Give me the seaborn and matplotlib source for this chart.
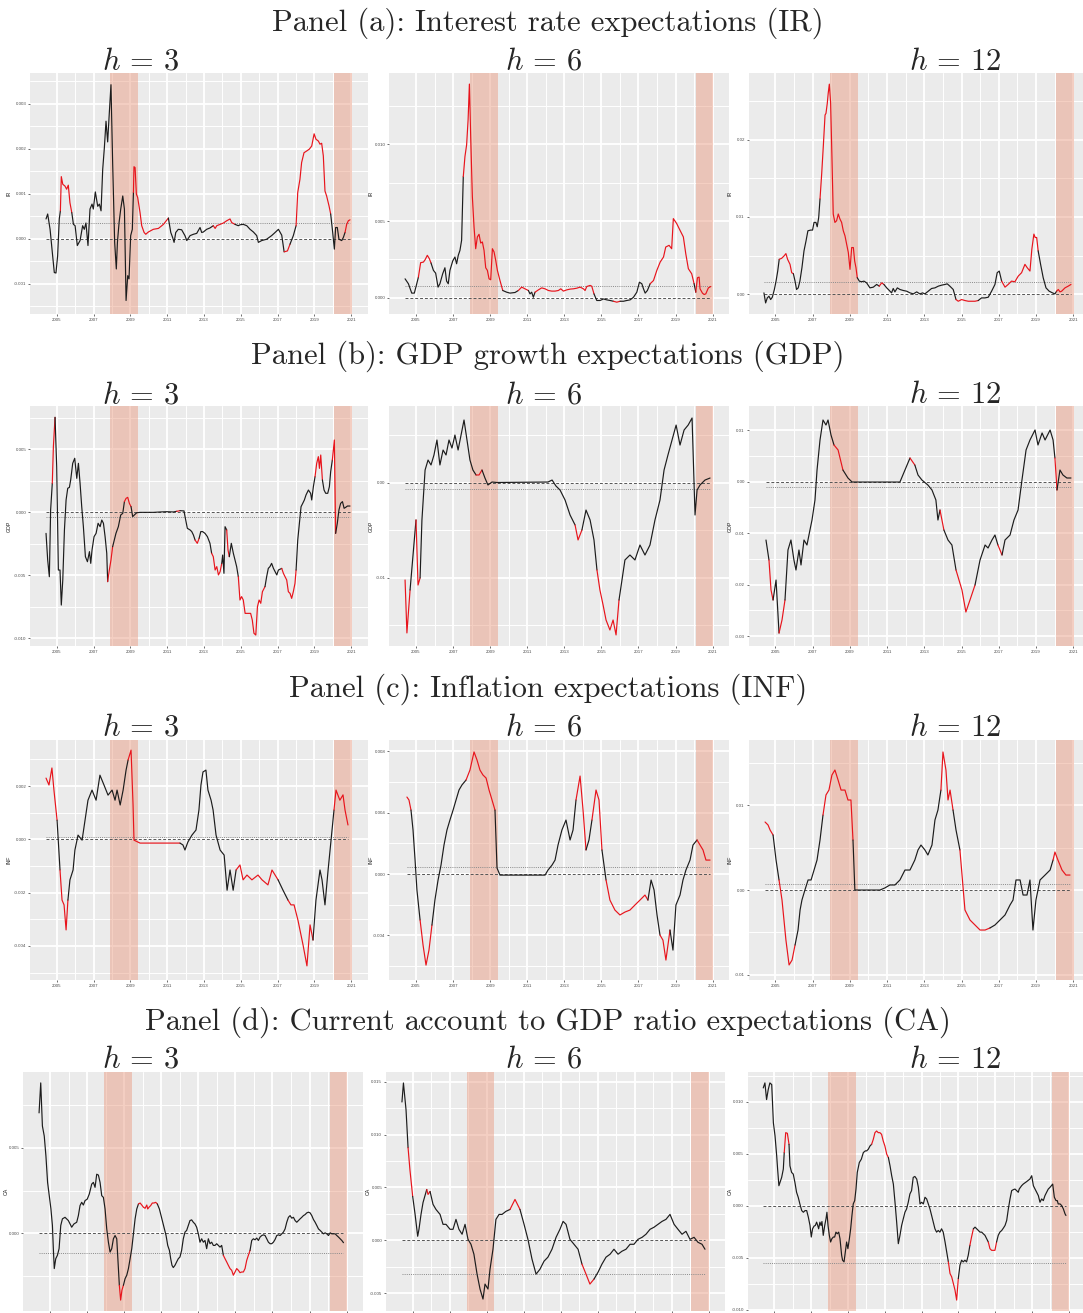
import numpy as np
import pandas as pd
import matplotlib
matplotlib.use("Agg")
import matplotlib.pyplot as plt
import seaborn as sns
from matplotlib.ticker import FixedLocator, FormatStrFormatter

sns.set_theme(style="darkgrid")
plt.rcParams["font.family"] = ["Liberation Sans", "DejaVu Sans"]
plt.rcParams["mathtext.fontset"] = "cm"
plt.rcParams["axes.unicode_minus"] = False

# ---------------- data (values in units of 1e-3) ----------------
RECESSIONS = [(2007.92, 2009.42), (2020.08, 2021.04)]

IR3 = [(2004.42, 0.44), (2004.51, 0.55), (2004.64, 0.21), (2004.78, -0.38), (2004.87, -0.75), (2004.96, -0.76),
       (2005.05, -0.38), (2005.14, 0.44), (2005.20, 0.62), (2005.25, 1.38), (2005.33, 1.21), (2005.45, 1.17),
       (2005.54, 1.10), (2005.63, 1.19), (2005.72, 0.80), (2005.82, 0.58), (2005.91, 0.32), (2006.00, 0.29),
       (2006.12, -0.15), (2006.27, -0.04), (2006.41, 0.29), (2006.50, 0.21), (2006.59, 0.35), (2006.70, -0.15),
       (2006.81, 0.66), (2006.92, 0.77), (2006.99, 0.66), (2007.10, 1.04), (2007.23, 0.72), (2007.32, 0.77),
       (2007.41, 0.62), (2007.50, 1.54), (2007.59, 2.02), (2007.68, 2.61), (2007.77, 2.15), (2007.86, 2.80),
       (2007.95, 3.42), (2008.04, 1.69), (2008.15, -0.08), (2008.24, -0.67), (2008.30, -0.08), (2008.39, 0.36),
       (2008.48, 0.66), (2008.59, 0.95), (2008.68, 0.66), (2008.77, -1.37), (2008.86, -0.82), (2008.93, -0.89),
       (2009.02, 0.07), (2009.11, 0.21), (2009.17, 1.03), (2009.20, 1.60), (2009.26, 1.58), (2009.33, 0.99),
       (2009.40, 0.92), (2009.53, 0.58), (2009.62, 0.29), (2009.75, 0.14), (2009.84, 0.10), (2009.98, 0.15),
       (2010.25, 0.21), (2010.53, 0.23), (2010.80, 0.32), (2011.07, 0.46), (2011.20, 0.14), (2011.30, 0.03),
       (2011.38, -0.08), (2011.47, 0.14), (2011.61, 0.21), (2011.79, 0.20), (2011.97, 0.07), (2012.07, -0.04),
       (2012.25, 0.07), (2012.43, 0.10), (2012.61, 0.12), (2012.79, 0.25), (2012.88, 0.14), (2012.97, 0.15),
       (2013.15, 0.21), (2013.33, 0.24), (2013.51, 0.29), (2013.61, 0.23), (2013.70, 0.29), (2013.88, 0.32),
       (2014.06, 0.35), (2014.24, 0.40), (2014.42, 0.44), (2014.51, 0.36), (2014.69, 0.32), (2014.87, 0.29),
       (2014.96, 0.31), (2015.14, 0.32), (2015.33, 0.29), (2015.51, 0.21), (2015.69, 0.15), (2015.87, 0.07),
       (2015.96, -0.08), (2016.14, -0.04), (2016.41, -0.01), (2016.68, 0.07), (2016.87, 0.14), (2017.05, 0.21),
       (2017.23, 0.08), (2017.36, -0.29), (2017.54, -0.27), (2017.68, -0.12), (2017.86, 0.07), (2018.01, 0.29),
       (2018.10, 1.03), (2018.22, 1.32), (2018.31, 1.69), (2018.44, 1.91), (2018.59, 1.95), (2018.73, 1.99),
       (2018.86, 2.06), (2018.99, 2.33), (2019.09, 2.21), (2019.22, 2.17), (2019.31, 2.10), (2019.40, 2.12),
       (2019.49, 1.84), (2019.58, 1.06), (2019.67, 0.95), (2019.80, 0.73), (2019.89, 0.55), (2020.00, 0.14),
       (2020.09, -0.23), (2020.16, 0.25), (2020.25, 0.25), (2020.34, -0.01), (2020.49, -0.04), (2020.58, 0.03),
       (2020.67, 0.14), (2020.76, 0.32), (2020.85, 0.40), (2020.94, 0.42)]
IR3_RED = [(2005.18, 2005.84), (2009.15, 2011.08), (2013.50, 2014.65), (2017.33, 2017.62), (2018.05, 2019.86), (2020.65, 2021.0)]
IR3_REF = 0.35

IR6 = [(2004.41, 1.24), (2004.59, 0.92), (2004.77, 0.31), (2004.91, 0.31), (2005.04, 0.92), (2005.13, 1.35),
       (2005.25, 2.29), (2005.40, 2.33), (2005.49, 2.48), (2005.61, 2.77), (2005.72, 2.55), (2005.81, 2.27),
       (2005.94, 1.79), (2006.06, 1.61), (2006.19, 0.70), (2006.29, 0.92), (2006.44, 1.57), (2006.56, 1.96),
       (2006.65, 1.09), (2006.74, 0.92), (2006.83, 1.79), (2006.98, 2.40), (2007.10, 2.66), (2007.19, 2.22),
       (2007.28, 2.77), (2007.37, 3.09), (2007.46, 3.75), (2007.55, 7.89), (2007.64, 9.20), (2007.73, 9.96),
       (2007.81, 11.59), (2007.88, 13.92), (2007.95, 10.50), (2008.04, 6.58), (2008.13, 4.62), (2008.22, 3.20),
       (2008.31, 3.97), (2008.40, 4.14), (2008.49, 3.57), (2008.58, 3.64), (2008.67, 3.09), (2008.76, 1.96),
       (2008.85, 1.79), (2008.94, 1.24), (2009.03, 1.18), (2009.12, 3.20), (2009.21, 2.99), (2009.30, 2.44),
       (2009.39, 1.79), (2009.53, 1.13), (2009.68, 0.48), (2009.89, 0.37), (2010.07, 0.31), (2010.34, 0.35),
       (2010.52, 0.48), (2010.70, 0.70), (2010.88, 0.59), (2011.06, 0.48), (2011.15, 0.26), (2011.24, 0.37),
       (2011.33, 0.04), (2011.42, 0.37), (2011.60, 0.52), (2011.78, 0.65), (2011.96, 0.59), (2012.14, 0.48),
       (2012.32, 0.44), (2012.50, 0.44), (2012.68, 0.48), (2012.81, 0.59), (2012.95, 0.44), (2013.13, 0.52),
       (2013.31, 0.57), (2013.49, 0.59), (2013.67, 0.63), (2013.85, 0.70), (2014.03, 0.59), (2014.12, 0.48),
       (2014.21, 0.74), (2014.39, 0.81), (2014.48, 0.76), (2014.60, 0.26), (2014.75, -0.17), (2014.93, -0.17),
       (2015.11, -0.07), (2015.29, -0.13), (2015.47, -0.17), (2015.65, -0.22), (2015.83, -0.28), (2016.01, -0.22),
       (2016.19, -0.22), (2016.37, -0.17), (2016.55, -0.13), (2016.73, 0.04), (2016.91, 0.37), (2017.05, 1.02),
       (2017.18, 0.92), (2017.27, 0.59), (2017.36, 0.31), (2017.48, 0.48), (2017.63, 0.92), (2017.81, 1.13),
       (2017.99, 1.79), (2018.17, 2.33), (2018.35, 2.66), (2018.47, 3.31), (2018.65, 3.42), (2018.79, 3.20),
       (2018.88, 5.16), (2019.06, 4.84), (2019.24, 4.40), (2019.42, 3.97), (2019.55, 2.88), (2019.69, 1.90),
       (2019.87, 1.57), (2020.00, 0.92), (2020.09, 0.37), (2020.18, 1.31), (2020.27, 1.35), (2020.32, 0.59),
       (2020.45, 0.31), (2020.54, 0.22), (2020.63, 0.26), (2020.77, 0.65), (2020.90, 0.74)]
IR6_RED = [(2005.10, 2005.85), (2007.55, 2009.70), (2010.45, 2011.00), (2011.50, 2014.55), (2015.60, 2016.00), (2017.60, 2020.00), (2020.10, 2021.0)]
IR6_REF = 0.76

IR12 = [(2004.39, 0.17), (2004.48, -1.13), (2004.57, -0.48), (2004.66, -0.26), (2004.75, -0.69), (2004.84, -0.39),
        (2004.95, 0.61), (2005.04, 1.69), (2005.13, 2.99), (2005.21, 4.51), (2005.34, 4.64), (2005.47, 4.95),
        (2005.57, 5.25), (2005.66, 4.51), (2005.79, 3.86), (2005.88, 2.78), (2005.97, 2.65), (2006.06, 1.69),
        (2006.14, 0.61), (2006.23, 0.82), (2006.32, 1.69), (2006.43, 3.43), (2006.54, 5.60), (2006.65, 6.90),
        (2006.75, 8.20), (2006.90, 8.29), (2007.00, 8.29), (2007.08, 9.28), (2007.18, 9.28), (2007.25, 8.72),
        (2007.33, 9.93), (2007.40, 12.32), (2007.49, 15.57), (2007.58, 19.26), (2007.67, 23.17), (2007.72, 23.38),
        (2007.79, 24.68), (2007.84, 25.98), (2007.90, 27.16), (2007.97, 24.68), (2008.04, 17.74), (2008.11, 10.37),
        (2008.20, 9.28), (2008.29, 9.50), (2008.38, 10.37), (2008.47, 9.72), (2008.56, 9.28), (2008.65, 8.20),
        (2008.74, 7.55), (2008.83, 6.46), (2008.92, 5.38), (2009.01, 3.21), (2009.10, 6.03), (2009.19, 6.03),
        (2009.26, 4.29), (2009.33, 3.43), (2009.40, 2.13), (2009.51, 1.69), (2009.63, 1.61), (2009.76, 1.69),
        (2009.90, 1.47), (2010.08, 0.82), (2010.26, 0.91), (2010.44, 1.26), (2010.58, 1.04), (2010.71, 1.47),
        (2010.83, 1.26), (2010.98, 0.82), (2011.12, 0.48), (2011.24, 0.17), (2011.33, 0.74), (2011.42, 0.30),
        (2011.55, 0.82), (2011.69, 0.61), (2011.87, 0.48), (2012.05, 0.39), (2012.23, 0.17), (2012.41, 0.04),
        (2012.59, 0.30), (2012.76, 0.04), (2012.91, 0.17), (2013.03, 0.04), (2013.21, 0.39), (2013.39, 0.74),
        (2013.57, 0.82), (2013.75, 1.04), (2013.93, 1.17), (2014.11, 1.26), (2014.23, 1.34), (2014.37, 1.04),
        (2014.55, 0.61), (2014.70, -0.69), (2014.82, -0.91), (2015.00, -0.69), (2015.18, -0.82), (2015.36, -0.91),
        (2015.54, -0.91), (2015.72, -0.91), (2015.89, -0.82), (2016.07, -0.48), (2016.25, -0.48), (2016.43, -0.39),
        (2016.61, 0.39), (2016.79, 1.26), (2016.91, 2.78), (2017.02, 2.99), (2017.15, 1.69), (2017.33, 0.91),
        (2017.50, 1.26), (2017.68, 1.69), (2017.86, 1.61), (2018.04, 2.34), (2018.22, 2.78), (2018.40, 3.86),
        (2018.52, 3.43), (2018.67, 2.99), (2018.77, 5.81), (2018.88, 7.77), (2018.95, 7.33), (2019.03, 7.33),
        (2019.11, 5.60), (2019.24, 3.86), (2019.38, 2.13), (2019.53, 0.82), (2019.70, 0.39), (2019.88, 0.17),
        (2020.01, 0.04), (2020.10, 0.39), (2020.19, 0.61), (2020.28, 0.30), (2020.37, 0.39), (2020.55, 0.82),
        (2020.72, 1.04), (2020.87, 1.26)]
IR12_RED = [(2005.20, 2005.97), (2007.40, 2009.45), (2010.60, 2010.90), (2014.65, 2015.95), (2017.15, 2019.10), (2020.10, 2021.0)]
IR12_REF = 1.56

GDP3 = [(2004.42, -1.67), (2004.51, -3.78), (2004.60, -5.11), (2004.67, 0.19), (2004.76, 2.30), (2004.82, 5.21),
        (2004.91, 7.54), (2005.00, 3.62), (2005.09, -4.58), (2005.18, -4.58), (2005.25, -7.36), (2005.33, -5.37),
        (2005.42, -1.40), (2005.51, 0.98), (2005.60, 1.91), (2005.69, 1.98), (2005.76, 2.57), (2005.87, 3.89),
        (2005.98, 4.29), (2006.09, 2.70), (2006.18, 3.89), (2006.27, 2.30), (2006.36, 0.45), (2006.45, -1.14),
        (2006.56, -3.52), (2006.67, -3.92), (2006.78, -3.12), (2006.85, -4.05), (2006.92, -2.99), (2007.03, -1.93),
        (2007.14, -1.67), (2007.25, -0.87), (2007.36, -1.14), (2007.45, -0.61), (2007.54, -0.87), (2007.63, -1.93),
        (2007.72, -3.25), (2007.77, -5.50), (2007.86, -4.58), (2007.95, -3.78), (2008.04, -2.73), (2008.13, -2.20),
        (2008.22, -1.67), (2008.35, -1.14), (2008.48, -0.21), (2008.59, -0.08), (2008.68, 0.85), (2008.77, 1.11),
        (2008.86, 1.19), (2008.95, 0.71), (2009.04, 0.45), (2009.13, -0.34), (2009.22, -0.21), (2009.35, -0.03),
        (2009.53, 0.0), (2009.89, 0.0), (2010.25, 0.0), (2010.62, 0.03), (2010.98, 0.05), (2011.34, 0.03),
        (2011.52, 0.08), (2011.70, 0.13), (2011.92, 0.11), (2011.97, -0.30), (2012.10, -1.27), (2012.25, -1.40),
        (2012.34, -1.53), (2012.43, -1.80), (2012.52, -2.20), (2012.64, -2.46), (2012.74, -2.06), (2012.83, -1.53),
        (2012.93, -1.53), (2013.06, -1.67), (2013.19, -1.93), (2013.33, -2.46), (2013.42, -3.25), (2013.51, -3.52),
        (2013.61, -4.58), (2013.70, -4.31), (2013.79, -4.97), (2013.88, -4.71), (2013.97, -4.05), (2014.02, -3.39),
        (2014.09, -4.84), (2014.15, -1.14), (2014.24, -1.40), (2014.31, -2.99), (2014.38, -3.52), (2014.49, -2.46),
        (2014.60, -3.25), (2014.69, -3.78), (2014.78, -4.31), (2014.87, -5.11), (2014.96, -6.96), (2015.05, -6.69),
        (2015.14, -6.96), (2015.24, -8.02), (2015.42, -8.02), (2015.54, -8.02), (2015.63, -8.55), (2015.72, -9.60),
        (2015.82, -9.74), (2015.91, -7.49), (2016.00, -6.96), (2016.09, -7.22), (2016.18, -6.30), (2016.32, -5.90),
        (2016.41, -5.11), (2016.50, -4.45), (2016.59, -4.31), (2016.68, -4.05), (2016.78, -4.45), (2016.87, -4.71),
        (2016.96, -4.97), (2017.05, -4.58), (2017.23, -4.45), (2017.32, -4.84), (2017.41, -5.11), (2017.50, -5.37),
        (2017.59, -6.30), (2017.68, -6.43), (2017.77, -6.83), (2017.86, -6.30), (2017.95, -5.64), (2018.01, -4.58),
        (2018.10, -2.20), (2018.19, -0.87), (2018.28, 0.45), (2018.37, 0.71), (2018.46, 0.98), (2018.55, 1.38),
        (2018.68, 1.77), (2018.80, 1.51), (2018.86, 0.98), (2018.95, 2.04), (2019.04, 2.83), (2019.13, 3.89),
        (2019.22, 4.42), (2019.28, 3.49), (2019.35, 4.55), (2019.44, 2.57), (2019.53, 1.77), (2019.62, 1.51),
        (2019.73, 1.51), (2019.82, 2.04), (2019.89, 3.23), (2019.98, 4.15), (2020.09, 5.74), (2020.16, -1.67),
        (2020.25, -0.87), (2020.34, 0.19), (2020.43, 0.71), (2020.53, 0.85), (2020.62, 0.32), (2020.71, 0.40),
        (2020.80, 0.50), (2020.94, 0.50)]
GDP3_RED = [(2004.78, 2004.93), (2007.76, 2008.00), (2008.70, 2009.00), (2011.45, 2011.75), (2012.55, 2012.70),
            (2013.40, 2013.95), (2014.25, 2014.40), (2014.87, 2016.30), (2017.25, 2018.02), (2019.05, 2019.40),
            (2019.95, 2020.17)]
GDP3_REF = -0.40

GDP6 = [(2004.41, -10.23), (2004.51, -15.79), (2004.68, -11.28), (2004.84, -7.61), (2005.00, -3.93), (2005.11, -10.76),
        (2005.22, -10.02), (2005.32, -3.93), (2005.49, 1.31), (2005.65, 2.36), (2005.81, 1.84), (2005.97, 2.89),
        (2006.13, 4.46), (2006.29, 1.84), (2006.46, 3.41), (2006.62, 2.89), (2006.78, 4.46), (2006.94, 3.62),
        (2007.10, 4.98), (2007.27, 3.41), (2007.43, 4.98), (2007.59, 6.56), (2007.75, 4.46), (2007.91, 2.36),
        (2008.07, 1.31), (2008.24, 0.79), (2008.40, 0.79), (2008.56, 1.31), (2008.72, 0.47), (2008.88, -0.26),
        (2009.10, 0.05), (2009.37, 0.0), (2012.12, 0.05), (2012.34, 0.26), (2012.55, -0.37), (2012.77, -0.79),
        (2013.04, -1.84), (2013.31, -3.41), (2013.58, -4.46), (2013.74, -6.03), (2013.95, -4.98), (2014.17, -2.89),
        (2014.39, -3.93), (2014.60, -6.03), (2014.76, -9.18), (2014.92, -11.28), (2015.09, -12.85), (2015.25, -14.43),
        (2015.46, -15.48), (2015.63, -14.43), (2015.79, -16.00), (2015.95, -12.33), (2016.11, -10.23), (2016.27, -8.13),
        (2016.54, -7.61), (2016.81, -8.13), (2017.08, -6.56), (2017.35, -7.61), (2017.62, -6.56), (2017.89, -3.93),
        (2018.16, -1.84), (2018.38, 1.31), (2018.59, 2.89), (2018.81, 4.46), (2019.03, 6.03), (2019.24, 3.93),
        (2019.46, 5.51), (2019.68, 6.03), (2019.89, 6.77), (2020.05, -3.41), (2020.16, -0.79), (2020.32, -0.26),
        (2020.59, 0.26), (2020.86, 0.47)]
GDP6_RED = [(2004.45, 2004.60), (2005.05, 2005.25), (2008.20, 2008.50), (2013.60, 2013.85), (2014.70, 2016.00),
            (2017.30, 2017.45), (2019.98, 2020.10)]
GDP6_REF = -0.70

GDP12 = [(2004.50, -11.32), (2004.66, -15.20), (2004.77, -21.03), (2004.88, -22.97), (2005.04, -19.09), (2005.20, -29.38),
         (2005.36, -26.85), (2005.52, -22.97), (2005.68, -13.26), (2005.84, -11.32), (2006.00, -15.20), (2006.11, -17.15),
         (2006.27, -13.26), (2006.38, -16.17), (2006.54, -11.32), (2006.70, -12.29), (2006.86, -9.38), (2006.97, -7.44),
         (2007.13, -3.55), (2007.24, 2.27), (2007.40, 8.10), (2007.56, 11.98), (2007.72, 11.01), (2007.83, 11.98),
         (2007.99, 9.07), (2008.15, 7.13), (2008.37, 6.16), (2008.63, 2.27), (2008.90, 0.72), (2009.12, -0.06),
         (2011.42, -0.06), (2011.69, -0.06), (2011.96, 2.27), (2012.23, 4.60), (2012.49, 3.24), (2012.66, 1.30),
         (2012.87, 0.33), (2013.19, -0.64), (2013.41, -1.61), (2013.62, -3.55), (2013.73, -7.44), (2013.84, -5.50),
         (2014.05, -9.38), (2014.27, -11.32), (2014.48, -12.29), (2014.70, -17.15), (2015.02, -21.03), (2015.23, -25.30),
         (2015.45, -22.97), (2015.72, -20.06), (2015.99, -15.20), (2016.26, -12.29), (2016.42, -12.87), (2016.63, -11.32),
         (2016.79, -10.35), (2016.95, -12.29), (2017.17, -14.23), (2017.33, -11.32), (2017.60, -10.35), (2017.81, -7.44),
         (2018.03, -5.50), (2018.24, 0.33), (2018.46, 6.16), (2018.67, 8.10), (2018.94, 10.04), (2019.10, 7.13),
         (2019.32, 9.46), (2019.48, 8.10), (2019.75, 10.04), (2019.91, 8.10), (2020.01, 4.60), (2020.12, -1.61),
         (2020.28, 2.27), (2020.44, 1.30), (2020.65, 0.72), (2020.87, 0.72)]
GDP12_RED = [(2004.70, 2004.90), (2005.15, 2005.50), (2008.10, 2008.50), (2012.10, 2012.40), (2013.80, 2013.95),
             (2014.70, 2015.70), (2016.95, 2017.20), (2020.05, 2020.15)]
GDP12_REF = -1.10

INF3 = [(2004.42, 2.30), (2004.58, 2.04), (2004.74, 2.68), (2004.85, 1.85), (2005.02, 0.72), (2005.18, -1.15),
        (2005.29, -2.28), (2005.40, -2.46), (2005.51, -3.40), (2005.61, -2.28), (2005.72, -1.52), (2005.89, -1.15),
        (2005.99, -0.40), (2006.16, 0.16), (2006.38, -0.03), (2006.54, 0.72), (2006.70, 1.47), (2006.92, 1.85),
        (2007.14, 1.47), (2007.35, 2.41), (2007.57, 2.04), (2007.79, 1.66), (2008.01, 1.85), (2008.17, 1.47),
        (2008.28, 1.85), (2008.45, 1.29), (2008.61, 1.85), (2008.77, 2.60), (2008.88, 2.98), (2009.04, 3.35),
        (2009.15, 1.29), (2009.20, -0.03), (2009.53, -0.14), (2010.61, -0.14), (2011.70, -0.14), (2011.86, -0.21),
        (2011.97, -0.40), (2012.13, -0.10), (2012.35, 0.16), (2012.57, 0.35), (2012.73, 1.10), (2012.84, 2.04),
        (2012.95, 2.53), (2013.11, 2.60), (2013.22, 1.85), (2013.39, 1.47), (2013.50, 1.10), (2013.66, 0.16),
        (2013.88, -0.40), (2014.10, -0.59), (2014.26, -1.91), (2014.42, -1.15), (2014.59, -1.91), (2014.75, -1.15),
        (2014.96, -0.96), (2015.13, -1.52), (2015.34, -1.34), (2015.61, -1.52), (2015.94, -1.34), (2016.16, -1.52),
        (2016.48, -1.71), (2016.70, -1.15), (2017.03, -1.52), (2017.30, -1.91), (2017.57, -2.28), (2017.73, -2.46),
        (2017.90, -2.46), (2018.11, -3.03), (2018.39, -3.97), (2018.60, -4.75), (2018.77, -3.21), (2018.93, -3.78),
        (2019.09, -2.28), (2019.31, -1.15), (2019.42, -1.52), (2019.58, -2.46), (2019.75, -1.15), (2019.91, -0.03),
        (2020.07, 1.10), (2020.18, 1.85), (2020.39, 1.47), (2020.56, 1.67), (2020.67, 1.10), (2020.83, 0.54)]
INF3_RED = [(2004.40, 2004.95), (2005.20, 2005.60), (2008.90, 2011.75), (2014.70, 2016.90), (2017.60, 2018.90), (2020.10, 2021.0)]
INF3_REF = 0.10

INF6 = [(2004.51, 5.02), (2004.62, 4.83), (2004.73, 4.17), (2004.84, 2.87), (2004.95, 0.91), (2005.05, -1.04),
        (2005.22, -3.00), (2005.38, -4.63), (2005.54, -5.94), (2005.70, -4.96), (2005.86, -3.33), (2006.02, -1.70),
        (2006.19, -0.39), (2006.35, 0.59), (2006.51, 1.89), (2006.67, 2.87), (2006.83, 3.52), (2007.00, 4.17),
        (2007.16, 4.83), (2007.32, 5.48), (2007.48, 5.81), (2007.70, 6.13), (2007.91, 6.78), (2008.13, 7.96),
        (2008.29, 7.44), (2008.45, 6.78), (2008.61, 6.46), (2008.78, 6.26), (2008.94, 5.48), (2009.10, 4.83),
        (2009.26, 4.17), (2009.37, 0.39), (2009.53, -0.07), (2011.96, -0.07), (2012.12, 0.26), (2012.34, 0.59),
        (2012.50, 0.91), (2012.66, 1.89), (2012.87, 2.87), (2013.09, 3.52), (2013.31, 2.22), (2013.47, 2.87),
        (2013.63, 4.83), (2013.85, 6.39), (2014.01, 4.17), (2014.17, 1.57), (2014.33, 2.22), (2014.49, 3.52),
        (2014.71, 5.48), (2014.87, 4.83), (2015.03, 1.57), (2015.25, -0.39), (2015.46, -1.70), (2015.73, -2.35),
        (2016.00, -2.67), (2016.27, -2.48), (2016.54, -2.35), (2016.81, -2.02), (2017.08, -1.70), (2017.35, -1.37),
        (2017.51, -1.70), (2017.68, -0.39), (2017.84, -1.04), (2018.00, -2.67), (2018.16, -3.98), (2018.32, -4.31),
        (2018.48, -5.61), (2018.70, -3.65), (2018.86, -4.96), (2019.02, -2.02), (2019.24, -1.37), (2019.40, -0.39),
        (2019.56, 0.26), (2019.78, 0.91), (2019.94, 1.89), (2020.16, 2.22), (2020.32, 1.89), (2020.48, 1.57),
        (2020.64, 0.91), (2020.86, 0.91)]
INF6_RED = [(2004.45, 2004.75), (2005.20, 2005.90), (2007.60, 2009.30), (2013.60, 2014.10), (2014.60, 2015.00),
            (2015.30, 2017.50), (2018.10, 2018.60), (2020.10, 2021.0)]
INF6_REF = 0.46

INF12 = [(2004.45, 8.00), (2004.61, 7.65), (2004.72, 7.06), (2004.88, 6.47), (2005.04, 3.53), (2005.20, 1.18),
         (2005.36, -1.18), (2005.57, -5.88), (2005.74, -8.82), (2005.90, -8.24), (2006.06, -6.47), (2006.22, -4.71),
         (2006.33, -2.35), (2006.43, -1.18), (2006.59, 0.0), (2006.76, 1.18), (2006.92, 1.18), (2007.08, 2.35),
         (2007.24, 3.53), (2007.40, 5.88), (2007.56, 8.82), (2007.72, 11.18), (2007.88, 11.76), (2008.04, 13.53),
         (2008.20, 14.12), (2008.37, 12.94), (2008.53, 11.76), (2008.74, 11.76), (2008.90, 10.59), (2009.06, 10.59),
         (2009.17, 5.88), (2009.27, 0.0), (2010.62, 0.0), (2010.88, 0.24), (2011.15, 0.59), (2011.42, 0.59),
         (2011.69, 1.18), (2011.96, 2.35), (2012.23, 2.35), (2012.49, 3.53), (2012.66, 4.71), (2012.82, 5.29),
         (2013.03, 4.71), (2013.19, 4.12), (2013.41, 5.29), (2013.57, 8.24), (2013.73, 9.41), (2013.89, 11.76),
         (2014.00, 16.24), (2014.16, 14.12), (2014.27, 10.59), (2014.38, 11.76), (2014.54, 9.41), (2014.70, 7.06),
         (2014.91, 4.71), (2015.18, -2.35), (2015.45, -3.53), (2015.72, -4.12), (2015.99, -4.71), (2016.26, -4.71),
         (2016.52, -4.47), (2016.79, -4.12), (2017.06, -3.53), (2017.33, -2.94), (2017.60, -1.76), (2017.76, -1.18),
         (2017.92, 1.18), (2018.14, 1.18), (2018.30, -0.59), (2018.51, -0.59), (2018.67, 1.18), (2018.83, -4.71),
         (2018.99, -1.18), (2019.21, 1.18), (2019.48, 1.76), (2019.75, 2.35), (2019.91, 3.53), (2020.01, 4.47),
         (2020.17, 3.53), (2020.39, 2.35), (2020.60, 1.76), (2020.82, 1.76)]
INF12_RED = [(2004.40, 2004.90), (2005.20, 2006.00), (2007.50, 2009.20), (2013.90, 2014.50), (2014.95, 2016.50), (2019.95, 2021.0)]
INF12_REF = 0.70

CA3 = [(2004.41, 7.06), (2004.50, 8.82), (2004.59, 6.29), (2004.69, 5.70), (2004.78, 4.53), (2004.87, 2.98),
       (2004.96, 2.20), (2005.05, 1.42), (2005.13, 0.45), (2005.18, -0.91), (2005.23, -2.08), (2005.31, -1.50),
       (2005.40, -1.30), (2005.49, -0.91), (2005.58, 0.45), (2005.67, 0.84), (2005.81, 0.93), (2005.99, 0.74),
       (2006.17, 0.35), (2006.29, 0.54), (2006.44, 0.64), (2006.53, 1.03), (2006.62, 1.62), (2006.71, 1.81),
       (2006.80, 1.65), (2006.89, 1.91), (2007.01, 2.00), (2007.12, 2.30), (2007.25, 2.88), (2007.34, 2.98),
       (2007.43, 2.69), (2007.52, 3.46), (2007.61, 3.41), (2007.70, 2.98), (2007.79, 2.20), (2007.88, 2.10),
       (2007.97, 1.42), (2008.06, 0.25), (2008.15, -0.53), (2008.24, -1.11), (2008.33, -0.91), (2008.42, -0.33),
       (2008.51, -0.14), (2008.60, -0.33), (2008.63, -0.91), (2008.69, -2.08), (2008.74, -3.06), (2008.81, -3.93),
       (2008.88, -3.35), (2008.96, -3.06), (2009.05, -2.67), (2009.14, -2.47), (2009.23, -2.08), (2009.32, -1.50),
       (2009.41, -0.91), (2009.50, -0.04), (2009.59, 0.84), (2009.68, 1.42), (2009.77, 1.71), (2009.86, 1.77),
       (2009.95, 1.65), (2010.04, 1.52), (2010.13, 1.46), (2010.22, 1.65), (2010.27, 1.42), (2010.34, 1.52),
       (2010.43, 1.62), (2010.52, 1.77), (2010.61, 1.77), (2010.70, 1.81), (2010.79, 1.71), (2010.90, 1.42),
       (2010.99, 1.03), (2011.08, 0.64), (2011.17, 0.25), (2011.26, -0.14), (2011.35, -0.72), (2011.44, -1.01),
       (2011.51, -1.50), (2011.58, -1.89), (2011.65, -2.02), (2011.74, -1.89), (2011.83, -1.69), (2011.92, -1.50),
       (2012.01, -1.40), (2012.10, -1.01), (2012.19, -0.33), (2012.28, 0.06), (2012.37, 0.16), (2012.46, 0.45),
       (2012.55, 0.74), (2012.64, 0.78), (2012.73, 0.64), (2012.82, 0.54), (2012.91, 0.35), (2013.00, -0.04),
       (2013.09, -0.53), (2013.18, -0.33), (2013.27, -0.53), (2013.36, -0.43), (2013.45, -0.91), (2013.54, -0.33),
       (2013.63, -0.62), (2013.72, -0.53), (2013.81, -0.72), (2013.90, -0.72), (2013.99, -0.62), (2014.08, -0.72),
       (2014.17, -0.82), (2014.26, -0.72), (2014.35, -1.30), (2014.44, -1.50), (2014.53, -1.69), (2014.62, -1.89),
       (2014.71, -2.08), (2014.80, -2.18), (2014.89, -2.47), (2014.98, -2.28), (2015.07, -2.08), (2015.16, -2.18),
       (2015.25, -2.32), (2015.34, -2.28), (2015.43, -2.28), (2015.52, -2.08), (2015.61, -1.60), (2015.70, -1.30),
       (2015.79, -1.01), (2015.88, -0.43), (2015.97, -0.33), (2016.06, -0.39), (2016.15, -0.29), (2016.24, -0.43),
       (2016.33, -0.23), (2016.42, -0.14), (2016.51, -0.10), (2016.60, -0.14), (2016.69, -0.33), (2016.78, -0.53),
       (2016.87, -0.62), (2016.96, -0.62), (2017.05, -0.53), (2017.14, -0.37), (2017.23, -0.14), (2017.32, -0.10),
       (2017.41, -0.14), (2017.50, -0.04), (2017.59, 0.06), (2017.68, 0.25), (2017.77, 0.64), (2017.86, 0.93),
       (2017.95, 1.03), (2018.04, 0.88), (2018.13, 0.93), (2018.22, 0.74), (2018.31, 0.64), (2018.40, 0.74),
       (2018.49, 0.84), (2018.58, 0.93), (2018.67, 1.03), (2018.76, 1.09), (2018.85, 1.19), (2018.94, 1.23),
       (2019.03, 1.19), (2019.12, 1.03), (2019.21, 0.80), (2019.30, 0.64), (2019.39, 0.45), (2019.48, 0.25),
       (2019.57, 0.16), (2019.66, 0.06), (2019.75, -0.04), (2019.84, 0.02), (2019.93, -0.04), (2020.02, -0.14),
       (2020.11, 0.02), (2020.20, -0.04), (2020.29, -0.04), (2020.38, -0.04), (2020.47, -0.14), (2020.56, -0.23),
       (2020.65, -0.33), (2020.74, -0.43), (2020.83, -0.56)]
CA3_RED = [(2008.74, 2008.99), (2009.75, 2010.80), (2014.33, 2015.80)]
CA3_REF = -1.17

CA6 = [(2004.43, 13.1), (2004.51, 14.9), (2004.65, 12.36), (2004.76, 8.77), (2004.86, 6.70), (2005.01, 4.15),
       (2005.14, 2.45), (2005.28, 0.38), (2005.35, 1.04), (2005.46, 2.45), (2005.57, 3.58), (2005.77, 4.81),
       (2005.84, 4.34), (2005.95, 4.62), (2006.11, 3.40), (2006.27, 2.92), (2006.49, 2.45), (2006.65, 1.51),
       (2006.81, 1.51), (2007.03, 1.04), (2007.19, 1.04), (2007.35, 1.98), (2007.51, 1.04), (2007.68, 0.57),
       (2007.84, 1.51), (2008.00, 0.09), (2008.16, -0.38), (2008.32, -1.32), (2008.49, -3.21), (2008.65, -4.62),
       (2008.81, -5.57), (2008.92, -4.15), (2009.08, -4.62), (2009.19, -2.74), (2009.35, -0.85), (2009.51, 1.98),
       (2009.68, 2.45), (2009.84, 2.45), (2010.05, 2.74), (2010.27, 2.92), (2010.54, 3.87), (2010.81, 2.92),
       (2011.03, 1.51), (2011.24, 0.09), (2011.46, -1.79), (2011.68, -3.21), (2011.89, -2.74), (2012.11, -1.98),
       (2012.32, -1.60), (2012.54, -0.85), (2012.76, 0.28), (2012.97, 1.04), (2013.14, 1.79), (2013.30, 1.51),
       (2013.51, 0.09), (2013.73, -0.38), (2013.95, -0.85), (2014.16, -2.26), (2014.38, -3.21), (2014.59, -4.15),
       (2014.81, -3.68), (2015.03, -3.02), (2015.24, -2.26), (2015.46, -1.60), (2015.68, -1.32), (2015.89, -0.85),
       (2016.11, -1.32), (2016.32, -1.04), (2016.54, -0.85), (2016.76, -0.38), (2016.97, -0.38), (2017.19, 0.09),
       (2017.41, 0.28), (2017.62, 0.57), (2017.84, 1.04), (2018.05, 1.23), (2018.27, 1.51), (2018.49, 1.79),
       (2018.70, 1.98), (2018.92, 2.45), (2019.14, 1.51), (2019.35, 1.04), (2019.57, 0.57), (2019.78, 0.85),
       (2020.00, 0.09), (2020.22, 0.28), (2020.43, -0.19), (2020.65, -0.38), (2020.81, -0.85)]
CA6_RED = [(2004.75, 2005.01), (2005.77, 2006.00), (2010.40, 2010.70), (2014.20, 2014.90)]
CA6_REF = -3.20

CA12 = [(2004.40, 11.34), (2004.49, 11.82), (2004.58, 10.22), (2004.67, 11.18), (2004.76, 11.82), (2004.86, 11.66),
        (2004.95, 7.99), (2005.04, 6.72), (2005.13, 4.81), (2005.18, 3.54), (2005.25, 1.94), (2005.31, 2.26),
        (2005.40, 2.74), (2005.49, 3.54), (2005.54, 5.13), (2005.62, 7.04), (2005.71, 6.98), (2005.80, 5.92),
        (2005.85, 3.85), (2005.94, 3.22), (2006.03, 3.06), (2006.12, 2.26), (2006.21, 1.31), (2006.30, 0.83),
        (2006.39, 0.19), (2006.49, -0.45), (2006.58, -0.61), (2006.67, -0.45), (2006.76, -0.45), (2006.85, -1.08),
        (2006.94, -1.88), (2007.01, -2.99), (2007.08, -2.20), (2007.16, -1.94), (2007.23, -1.88), (2007.30, -1.56),
        (2007.36, -1.88), (2007.41, -2.20), (2007.48, -1.56), (2007.54, -1.88), (2007.59, -1.50), (2007.66, -2.83),
        (2007.74, -1.88), (2007.81, -1.24), (2007.86, -0.61), (2007.92, -1.88), (2007.99, -2.83), (2008.06, -3.47),
        (2008.13, -3.15), (2008.21, -2.99), (2008.28, -2.99), (2008.35, -2.52), (2008.42, -2.68), (2008.50, -2.52),
        (2008.57, -3.15), (2008.66, -4.75), (2008.71, -5.22), (2008.79, -5.38), (2008.86, -4.43), (2008.93, -3.47),
        (2009.00, -4.11), (2009.08, -3.15), (2009.15, -2.20), (2009.22, -0.92), (2009.29, 0.19), (2009.37, 0.51),
        (2009.44, 1.62), (2009.51, 3.22), (2009.62, 4.17), (2009.73, 4.49), (2009.84, 5.13), (2009.95, 5.29),
        (2010.02, 5.29), (2010.11, 5.45), (2010.20, 5.76), (2010.29, 5.92), (2010.38, 6.40), (2010.47, 7.04),
        (2010.56, 7.20), (2010.65, 7.04), (2010.74, 7.04), (2010.83, 6.88), (2010.92, 6.24), (2011.01, 5.76),
        (2011.11, 4.97), (2011.20, 4.65), (2011.29, 3.85), (2011.38, 2.90), (2011.47, 2.10), (2011.56, 0.35),
        (2011.65, -1.56), (2011.74, -3.63), (2011.83, -2.83), (2011.92, -1.88), (2012.01, -1.24), (2012.10, -0.61),
        (2012.19, -0.29), (2012.28, 0.35), (2012.37, 1.15), (2012.46, 1.47), (2012.55, 2.74), (2012.64, 2.83),
        (2012.74, 2.58), (2012.83, 1.78), (2012.92, 0.19), (2013.01, 0.35), (2013.10, 0.19), (2013.19, 0.83),
        (2013.28, 0.67), (2013.37, 0.19), (2013.46, -0.29), (2013.55, -0.92), (2013.64, -1.56), (2013.73, -2.20),
        (2013.82, -2.52), (2013.91, -2.36), (2014.00, -2.52), (2014.09, -2.20), (2014.18, -2.52), (2014.28, -3.47),
        (2014.37, -4.43), (2014.46, -5.38), (2014.55, -6.50), (2014.64, -6.82), (2014.73, -7.45), (2014.82, -8.09),
        (2014.91, -9.05), (2015.00, -6.98), (2015.09, -5.70), (2015.18, -5.22), (2015.27, -5.38), (2015.36, -5.22),
        (2015.45, -5.38), (2015.54, -4.75), (2015.63, -3.79), (2015.72, -2.99), (2015.82, -2.20), (2015.91, -2.04),
        (2016.00, -2.20), (2016.09, -2.36), (2016.18, -2.52), (2016.27, -2.52), (2016.36, -2.68), (2016.45, -2.83),
        (2016.54, -3.15), (2016.63, -3.47), (2016.72, -4.11), (2016.81, -4.27), (2016.99, -4.27), (2017.08, -3.47),
        (2017.17, -2.83), (2017.26, -2.52), (2017.36, -2.36), (2017.45, -2.13), (2017.54, -1.88), (2017.63, -1.40),
        (2017.72, -0.29), (2017.81, 0.67), (2017.90, 1.47), (2017.99, 1.56), (2018.08, 1.62), (2018.17, 1.47),
        (2018.26, 1.31), (2018.31, 1.62), (2018.44, 1.94), (2018.53, 2.10), (2018.71, 2.33), (2018.89, 2.58),
        (2018.99, 2.90), (2019.08, 1.94), (2019.17, 1.62), (2019.26, 1.31), (2019.35, 0.99), (2019.44, 0.35),
        (2019.53, 0.67), (2019.62, 0.51), (2019.71, 0.99), (2019.80, 1.31), (2019.89, 1.62), (2019.98, 1.78),
        (2020.13, 2.10), (2020.22, 0.83), (2020.31, 0.51), (2020.38, 0.51), (2020.43, 0.19), (2020.53, 0.19),
        (2020.62, 0.03), (2020.71, -0.29), (2020.80, -0.76), (2020.85, -0.92)]
CA12_RED = [(2005.58, 2005.80), (2010.25, 2011.20), (2014.46, 2015.00), (2015.60, 2015.82), (2016.63, 2017.08)]
CA12_REF = -5.50

TITLES = ["Panel (a): Interest rate expectations (IR)",
          "Panel (b): GDP growth expectations (GDP)",
          "Panel (c): Inflation expectations (INF)",
          "Panel (d): Current account to GDP ratio expectations (CA)"]
HORIZONS = ["3", "6", "12"]
YLABELS = ["IR", "GDP", "INF", "CA"]
YEAR_TICKS = [2005, 2007, 2009, 2011, 2013, 2015, 2017, 2019, 2021]

# panel specs: (series, red spans, reference level, y ticks (1e-3), tick format, y limits (1e-3))
PANELS = [
    [(IR3, IR3_RED, IR3_REF, [-1, 0, 1, 2, 3], "%.3f", (-1.67, 3.68)),
     (IR6, IR6_RED, IR6_REF, [0, 5, 10], "%.3f", (-1.05, 14.64)),
     (IR12, IR12_RED, IR12_REF, [0, 10, 20], "%.2f", (-2.56, 28.6))],
    [(GDP3, GDP3_RED, GDP3_REF, [-10, -5, 0, 5], "%.3f", (-10.61, 8.44)),
     (GDP6, GDP6_RED, GDP6_REF, [-10, 0], "%.2f", (-17.16, 8.03)),
     (GDP12, GDP12_RED, GDP12_REF, [-30, -20, -10, 0, 10], "%.2f", (-31.9, 14.7))],
    [(INF3, INF3_RED, INF3_REF, [-4, -2, 0, 2], "%.3f", (-5.28, 3.73)),
     (INF6, INF6_RED, INF6_REF, [-4, 0, 4, 8], "%.3f", (-6.91, 8.74)),
     (INF12, INF12_RED, INF12_REF, [-10, 0, 10], "%.2f", (-10.59, 17.65))],
    [(CA3, CA3_RED, CA3_REF, [0, 5], "%.3f", (-4.57, 9.46)),
     (CA6, CA6_RED, CA6_REF, [-5, 0, 5, 10, 15], "%.3f", (-6.70, 15.94)),
     (CA12, CA12_RED, CA12_REF, [-10, -5, 0, 5, 10], "%.3f", (-10.10, 12.87))],
]

# ---------------- layout (pixels) ----------------
W, H = 1083, 1313
XMIN, XMAX = 2003.57, 2021.9
# (pixel of 2005, pixels per year) for each column; last row slightly shifted
XMAP = [[(56.7, 18.4), (416.0, 18.54), (775.3, 18.63)]] * 3 + [[(50.0, 18.54), (412.5, 18.5), (774.3, 18.4)]]
ROWS_Y = [(73, 314), (406, 646), (740, 980), (1072, 1311)]
TITLE_Y = [31, 364, 697, 1030]
H_Y = [70, 403, 736, 1068]
H_X = [140, 543, 955]
YLAB_OFF = [[18.5, 16.0, 16.0]] * 3 + [[15.0, 15.0, 15.0]]

BLACK = "#1c1c1c"
RED = "#E8141C"
BAND = "darksalmon"

fig = plt.figure(figsize=(W / 100, H / 100), dpi=100)
fig.patch.set_facecolor("white")


def draw_series(ax, pairs, spans):
    t = np.array([p[0] for p in pairs])
    v = np.array([p[1] for p in pairs]) * 1e-3
    mid = (t[:-1] + t[1:]) / 2
    red = np.array([any(a <= m <= b for a, b in spans) for m in mid])
    start = 0
    n = len(red)
    for i in range(1, n + 1):
        if i == n or red[i] != red[start]:
            seg = pd.DataFrame({"t": t[start:i + 1], "v": v[start:i + 1]})
            sns.lineplot(data=seg, x="t", y="v", ax=ax, color=RED if red[start] else BLACK,
                         lw=0.85, estimator=None, sort=False, zorder=5)
            start = i
    return t[0], t[-1]


for r in range(4):
    for c in range(3):
        pairs, spans, ref, yt, fmt, ylim = PANELS[r][c]
        x0, s = XMAP[r][c]
        left = x0 + (XMIN - 2005) * s
        right = x0 + (XMAX - 2005) * s
        top, bottom = ROWS_Y[r]
        ax = fig.add_axes([left / W, 1 - bottom / H, (right - left) / W, (bottom - top) / H])
        ax.set_facecolor("#EBEBEB")
        for sp in ax.spines.values():
            sp.set_visible(False)
        ax.set_xlim(XMIN, XMAX)
        ax.set_ylim(ylim[0] * 1e-3, ylim[1] * 1e-3)

        for a, b in RECESSIONS:
            ax.axvspan(a, b, color=BAND, alpha=0.45, lw=0, zorder=2)

        t0, t1 = draw_series(ax, pairs, spans)
        hl = pd.DataFrame({"t": [t0, t1], "zero": [0.0, 0.0], "ref": [ref * 1e-3, ref * 1e-3]})
        sns.lineplot(data=hl, x="t", y="zero", ax=ax, color="#555555", lw=0.7, zorder=4,
                     linestyle=(0, (3, 2)), estimator=None)
        sns.lineplot(data=hl, x="t", y="ref", ax=ax, color="#8a8a8a", lw=0.7, zorder=4,
                     linestyle=(0, (1, 1.2)), estimator=None)

        # grid
        step = yt[1] - yt[0]
        minors = np.arange(yt[0] - step * 3.5, yt[-1] + step * 4, step) * 1e-3
        ax.yaxis.set_major_locator(FixedLocator(np.array(yt) * 1e-3))
        ax.yaxis.set_minor_locator(FixedLocator(minors))
        ax.yaxis.set_major_formatter(FormatStrFormatter(fmt))
        ax.xaxis.set_major_locator(FixedLocator(YEAR_TICKS))
        ax.xaxis.set_minor_locator(FixedLocator([y + 1 for y in YEAR_TICKS[:-1]] + [2003, 2022]))
        ax.grid(which="major", color="white", lw=1.35, zorder=1)
        ax.grid(which="minor", color="white", lw=0.7, zorder=1)
        ax.set_axisbelow(True)
        ax.tick_params(which="major", length=1.6, width=0.5, color="#333333", labelsize=3.2,
                       labelcolor="#4D4D4D", pad=1.2, left=True, bottom=True)
        ax.tick_params(which="minor", length=0)
        if r == 3:
            # the bottom row is cropped in the original: tick marks only
            ax.tick_params(axis="x", labelbottom=False)
        ax.set_xlabel("")
        ax.set_ylabel(YLABELS[r], fontsize=3.8, color="#222222", labelpad=2)
        ax.yaxis.set_label_coords(-YLAB_OFF[r][c] / (right - left), 0.5)

    fig.text(548 / W, 1 - TITLE_Y[r] / H, TITLES[r], fontsize=22, family="cmr10",
             ha="center", va="baseline")
    for c in range(3):
        fig.text(H_X[c] / W, 1 - H_Y[r] / H, r"$h\,=\,%s$" % HORIZONS[c], fontsize=22,
                 ha="center", va="baseline")

fig.savefig("out.png", dpi=100, facecolor="white")
